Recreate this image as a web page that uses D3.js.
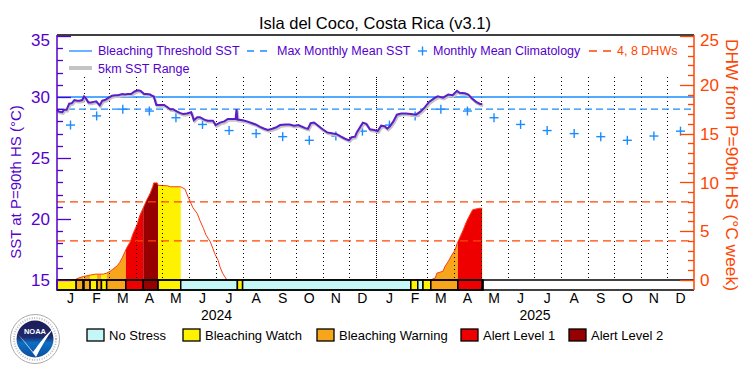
<!DOCTYPE html>
<html><head><meta charset="utf-8">
<script src="https://cdn.jsdelivr.net/npm/d3@7"></script>
<style>body{margin:0;background:#fff}svg{display:block}text{font-family:"Liberation Sans",Arial,sans-serif}</style>
</head><body><svg id="c" width="750" height="375"></svg>
<script>
// ---------------- DATA ----------------
const chartTitle = "Isla del Coco, Costa Rica (v3.1)";
const monthLetters = ["J","F","M","A","M","J","J","A","S","O","N","D"];
const years = [2024, 2025];
const climatology = [27.7, 28.45, 29.0, 28.85, 28.3, 27.75, 27.25, 27.0, 26.75, 26.45, 26.8, 27.2];
const bleachingThreshold = 30.0;
const maxMonthlyMean = 29.0;
const dhwReferenceLevels = [4, 8];
const sstTicks = [15, 20, 25, 30, 35];
const dhwTicks = [0, 5, 10, 15, 20, 25];

const sstDates = ["2024-01-01","2024-01-03","2024-01-07","2024-01-09","2024-01-12","2024-01-15","2024-01-18","2024-01-21","2024-01-24","2024-01-27","2024-01-30","2024-02-01","2024-02-03","2024-02-06","2024-02-09","2024-02-12","2024-02-15","2024-02-19","2024-02-22","2024-02-25","2024-02-29","2024-03-04","2024-03-08","2024-03-11","2024-03-16","2024-03-19","2024-03-22","2024-03-26","2024-03-30","2024-04-03","2024-04-06","2024-04-10","2024-04-13","2024-04-17","2024-04-19","2024-04-21","2024-04-24","2024-04-28","2024-05-03","2024-05-06","2024-05-10","2024-05-13","2024-05-18","2024-05-21","2024-05-25","2024-05-29","2024-06-03","2024-06-06","2024-06-10","2024-06-13","2024-06-18","2024-06-22","2024-06-28","2024-07-01","2024-07-06","2024-07-11","2024-07-15","2024-07-21","2024-07-24","2024-07-25","2024-07-26","2024-08-01","2024-08-06","2024-08-12","2024-08-16","2024-08-21","2024-08-26","2024-08-30","2024-09-04","2024-09-08","2024-09-13","2024-09-19","2024-09-24","2024-09-29","2024-10-04","2024-10-07","2024-10-12","2024-10-15","2024-10-18","2024-10-22","2024-10-25","2024-10-31","2024-11-06","2024-11-13","2024-11-17","2024-11-22","2024-11-26","2024-12-01","2024-12-04","2024-12-08","2024-12-10","2024-12-14","2024-12-17","2024-12-21","2024-12-25","2024-12-30","2025-01-03","2025-01-07","2025-01-11","2025-01-14","2025-01-17","2025-01-21","2025-01-25","2025-01-30","2025-02-04","2025-02-10","2025-02-16","2025-02-21","2025-02-26","2025-03-03","2025-03-09","2025-03-13","2025-03-19","2025-03-25","2025-03-30","2025-04-04","2025-04-07","2025-04-13","2025-04-17","2025-04-21","2025-04-26","2025-04-30","2025-05-03"];
const sstValues = [28.95,28.8,28.75,28.95,28.95,29.45,29.5,29.75,29.7,29.7,29.75,30.05,29.9,29.55,29.55,29.6,29.65,29.32,29.7,29.75,29.93,30.1,30.15,30.15,30.25,30.2,30.25,30.25,30.45,30.55,30.5,30.25,30.25,30.2,30.1,30.05,29.35,29.35,29.35,29.2,29.0,29.0,28.8,28.7,28.6,28.65,28.75,28.1,28.35,28.35,28.15,28.05,28.05,27.7,27.9,28.0,28.2,28.2,28.2,29.0,28.15,28.1,28.0,27.85,27.75,27.55,27.4,27.3,27.4,27.5,27.7,27.75,27.75,27.65,27.7,27.6,27.45,27.4,27.85,27.9,27.75,27.4,27.1,27.0,26.95,26.75,26.6,26.45,26.7,26.75,27.1,27.55,27.9,27.8,27.35,27.3,27.2,27.65,27.6,27.4,27.6,28.0,28.55,28.65,28.65,28.6,28.55,28.8,29.15,29.6,29.9,30.05,29.95,30.2,30.15,30.5,30.35,30.3,30.2,29.9,29.6,29.45,29.4];

const dhwDates = ["2024-01-01","2024-01-22","2024-01-23","2024-01-24","2024-01-31","2024-02-08","2024-02-14","2024-02-23","2024-02-27","2024-03-02","2024-03-05","2024-03-10","2024-03-13","2024-03-16","2024-03-19","2024-03-21","2024-03-25","2024-03-28","2024-04-02","2024-04-05","2024-04-09","2024-04-13","2024-04-17","2024-04-20","2024-04-21","2024-04-25","2024-04-26","2024-05-07","2024-05-10","2024-05-22","2024-05-27","2024-05-30","2024-06-02","2024-06-05","2024-06-10","2024-06-13","2024-06-17","2024-06-20","2024-06-25","2024-06-28","2024-06-30","2024-07-04","2024-07-06","2024-07-09","2024-07-14","2025-03-04","2025-03-07","2025-03-10","2025-03-12","2025-03-19","2025-03-21","2025-03-25","2025-03-29","2025-04-02","2025-04-04","2025-04-07","2025-04-11","2025-04-15","2025-04-19","2025-04-22","2025-04-27","2025-04-30","2025-05-03"];
const dhwValues = [0,0,0.1,0.15,0.35,0.5,0.6,0.6,0.7,0.9,1.1,1.45,1.8,2.3,2.9,3.3,3.9,4.7,5.7,6.6,7.4,8.2,8.9,9.6,9.95,9.95,9.7,9.65,9.55,9.55,9.3,8.6,8.0,7.4,6.8,6.1,5.3,4.6,3.9,3.2,2.7,2.0,1.35,0.7,0,0,0.1,0.2,0.7,0.9,1.35,1.9,2.55,3.1,3.7,4.3,5.1,6.0,6.7,7.2,7.3,7.35,7.35];

// stress level runs: 0 No Stress, 1 Watch, 2 Warning, 3 Alert 1, 4 Alert 2
const stressStarts = ["2024-01-01","2024-01-23","2024-01-31","2024-02-01","2024-02-08","2024-02-16","2024-02-21","2024-02-27","2024-03-20","2024-04-09","2024-04-26","2024-05-22","2024-07-26","2024-08-01","2025-02-10","2025-02-18","2025-02-24","2025-03-05","2025-04-05","2025-05-03"];
const stressLevels = [1,2,1,2,1,2,1,2,3,4,1,0,1,0,1,0,1,2,3,1];
const stressDataEnd = "2025-05-04";
const stressNames = ["No Stress","Bleaching Watch","Bleaching Warning","Alert Level 1","Alert Level 2"];

// ---------------- STYLE ----------------
const stressColors = ["#c6f7f7","#fff200","#f7a61c","#ee0000","#960000"];
const PURPLE = "#5500cc", LINEPURPLE = "#5a1ec8", BLUE = "#1a8cff", ORANGE = "#ff4500";

const svg = d3.select("#c");
const parse = d3.utcParse("%Y-%m-%d");
const L = 57, R = 694, TOP = 35, BOT = 290, BASE = 280;

const x = d3.scaleUtc().domain([new Date(Date.UTC(2024,0,1)), new Date(Date.UTC(2026,0,1))]).range([L, R]);
const yL = d3.scaleLinear().domain([15, 35]).range([BASE, 36]);
const yR = d3.scaleLinear().domain([0, 25]).range([BASE, 36]);

const sst = sstDates.map((d,i)=>({date:parse(d), v:sstValues[i]}));
const dhw = dhwDates.map((d,i)=>({date:parse(d), v:dhwValues[i]}));
const runs = stressStarts.map((d,i)=>({start:parse(d), end: parse(i<stressStarts.length-1?stressStarts[i+1]:stressDataEnd), level:stressLevels[i]}));

const defs = svg.append("defs");

// DHW area fills by stress level
const area = d3.area().x(d=>x(d.date)).y0(yR(0)).y1(d=>yR(d.v));
runs.forEach((r,i)=>{
  if (r.level === 0) return;
  defs.append("clipPath").attr("id","cp"+i).append("rect")
    .attr("x", x(r.start)).attr("width", x(r.end)-x(r.start)).attr("y", 0).attr("height", BASE);
  svg.append("path").datum(dhw).attr("d", area).attr("fill", stressColors[r.level]).attr("clip-path","url(#cp"+i+")");
});
// DHW line
svg.append("path").datum(dhw).attr("d", d3.line().x(d=>x(d.date)).y(d=>yR(d.v)))
  .attr("fill","none").attr("stroke","#ff3c14").attr("stroke-width",1);

// month dotted lines
const monthStarts = d3.utcMonth.range(new Date(Date.UTC(2024,1,1)), new Date(Date.UTC(2026,0,1)));
svg.append("g").selectAll("line").data(monthStarts).join("line")
  .attr("x1", d=>Math.round(x(d))+0.5).attr("x2", d=>Math.round(x(d))+0.5).attr("y1", 77).attr("y2", BASE)
  .attr("stroke","#000").attr("stroke-width",1)
  .attr("stroke-dasharray", d=>d.getUTCMonth()===0 ? "1,1" : "1,3");

// DHW reference lines
svg.append("g").selectAll("line").data(dhwReferenceLevels).join("line")
  .attr("x1", L).attr("x2", R).attr("y1", d=>yR(d)).attr("y2", d=>yR(d))
  .attr("stroke", ORANGE).attr("stroke-width",1.2).attr("stroke-dasharray","8,5");

// threshold and MMM
svg.append("line").attr("x1",L).attr("x2",R).attr("y1",yL(bleachingThreshold)).attr("y2",yL(bleachingThreshold))
  .attr("stroke",BLUE).attr("stroke-width",1.3);
svg.append("line").attr("x1",L).attr("x2",R).attr("y1",yL(maxMonthlyMean)).attr("y2",yL(maxMonthlyMean))
  .attr("stroke",BLUE).attr("stroke-width",1.3).attr("stroke-dasharray","7,4");

// climatology plus markers (mid-month both years)
const climPts = [];
years.forEach(yr => climatology.forEach((v,m)=>{
  const a = Date.UTC(yr,m,1), b = Date.UTC(yr,m+1,1);
  climPts.push({date:new Date((a+b)/2), v});
}));
const plus = svg.append("g").attr("stroke",BLUE).attr("stroke-width",1.4);
climPts.forEach(p=>{
  const cx = x(p.date), cy = yL(p.v);
  plus.append("line").attr("x1",cx-4.5).attr("x2",cx+4.5).attr("y1",cy).attr("y2",cy);
  plus.append("line").attr("x1",cx).attr("x2",cx).attr("y1",cy-4.5).attr("y2",cy+4.5);
});

// SST range (gray) and SST line
const sstLine = d3.line().x(d=>x(d.date)).y(d=>yL(d.v));
svg.append("path").datum(sst).attr("d", sstLine).attr("fill","none").attr("stroke","#c4c4c4")
  .attr("stroke-width",2.5).attr("transform","translate(1,1.5)");
svg.append("path").datum(sst).attr("d", sstLine).attr("fill","none").attr("stroke",LINEPURPLE)
  .attr("stroke-width",2).attr("stroke-linejoin","miter");

// stress bar
svg.append("g").selectAll("rect").data(runs).join("rect")
  .attr("x", d=>x(d.start)).attr("width", d=>x(d.end)-x(d.start))
  .attr("y", BASE).attr("height", BOT-BASE)
  .attr("fill", d=>stressColors[d.level]).attr("stroke","#000").attr("stroke-width",1.5);
svg.append("line").attr("x1",L).attr("x2",R).attr("y1",BASE).attr("y2",BASE).attr("stroke","#000").attr("stroke-width",1.5);

// frame
svg.append("line").attr("x1",L).attr("x2",R).attr("y1",TOP).attr("y2",TOP).attr("stroke","#000").attr("stroke-width",1.5);
svg.append("line").attr("x1",L).attr("x2",R).attr("y1",BOT).attr("y2",BOT).attr("stroke","#000").attr("stroke-width",1.5);

// left axis
const gl = svg.append("g");
gl.append("line").attr("x1",L).attr("x2",L).attr("y1",TOP).attr("y2",BOT).attr("stroke",PURPLE).attr("stroke-width",1.5);
d3.range(15,36).forEach(v=>{
  const major = v%5===0;
  gl.append("line").attr("x1",L).attr("x2",L+(major?14:6)).attr("y1",Math.round(yL(v))+0.5).attr("y2",Math.round(yL(v))+0.5)
    .attr("stroke",PURPLE).attr("stroke-width",1.3);
});
gl.selectAll("text").data(sstTicks).join("text")
  .attr("x",50).attr("y",d=>Math.max(yL(d),40)).attr("dy","0.36em").attr("text-anchor","end")
  .attr("font-size",17).attr("fill",PURPLE).text(d=>d);
svg.append("text").attr("transform","translate(21,182) rotate(-90)").attr("text-anchor","middle")
  .attr("font-size",15).attr("fill",PURPLE).text("SST at P=90th HS (°C)");

// right axis
const gr = svg.append("g");
gr.append("line").attr("x1",R).attr("x2",R).attr("y1",TOP).attr("y2",BOT).attr("stroke",ORANGE).attr("stroke-width",1.5);
d3.range(0,26).forEach(v=>{
  const major = v%5===0;
  gr.append("line").attr("x1",R).attr("x2",R-(major?14:6)).attr("y1",Math.round(yR(v))+0.5).attr("y2",Math.round(yR(v))+0.5)
    .attr("stroke",ORANGE).attr("stroke-width",1.3);
});
gr.selectAll("text").data(dhwTicks).join("text")
  .attr("x",700).attr("y",d=>Math.max(yR(d),40)).attr("dy","0.36em").attr("text-anchor","start")
  .attr("font-size",17).attr("fill",ORANGE).text(d=>d);
svg.append("text").attr("transform","translate(726,165) rotate(90)").attr("text-anchor","middle")
  .attr("font-size",16.5).attr("textLength",252).attr("lengthAdjust","spacingAndGlyphs")
  .attr("fill",ORANGE).text("DHW from P=90th HS (°C week)");

// month labels and years
const months = d3.utcMonth.range(new Date(Date.UTC(2024,0,1)), new Date(Date.UTC(2026,0,1)));
svg.append("g").selectAll("text").data(months).join("text")
  .attr("x", d=>x(new Date((+d + +d3.utcMonth.offset(d,1))/2))).attr("y",303)
  .attr("text-anchor","middle").attr("font-size",14).attr("fill","#000")
  .text(d=>monthLetters[d.getUTCMonth()]);
svg.append("g").selectAll("text").data(years).join("text")
  .attr("x", d=>x(new Date((Date.UTC(d,0,1)+Date.UTC(d+1,0,1))/2))).attr("y",320)
  .attr("text-anchor","middle").attr("font-size",14).attr("fill","#000").text(d=>d);

// title
svg.append("text").attr("x",375).attr("y",29).attr("text-anchor","middle").attr("font-size",16.5)
  .attr("fill","#000").text(chartTitle);

// top legend
const lg = svg.append("g").attr("font-size",12.5);
lg.append("line").attr("x1",69).attr("x2",92).attr("y1",51).attr("y2",51).attr("stroke",BLUE).attr("stroke-width",1.3);
lg.append("text").attr("x",98).attr("y",55).attr("fill",PURPLE).text("Bleaching Threshold SST");
lg.append("line").attr("x1",247).attr("x2",269).attr("y1",51).attr("y2",51).attr("stroke",BLUE).attr("stroke-width",1.3).attr("stroke-dasharray","7,6");
lg.append("text").attr("x",277).attr("y",55).attr("fill",PURPLE).text("Max Monthly Mean SST");
lg.append("line").attr("x1",418).attr("x2",427).attr("y1",51).attr("y2",51).attr("stroke",BLUE).attr("stroke-width",1.4);
lg.append("line").attr("x1",422.5).attr("x2",422.5).attr("y1",46.5).attr("y2",55.5).attr("stroke",BLUE).attr("stroke-width",1.4);
lg.append("text").attr("x",433).attr("y",55).attr("fill",PURPLE).text("Monthly Mean Climatology");
lg.append("line").attr("x1",589).attr("x2",612).attr("y1",51).attr("y2",51).attr("stroke",ORANGE).attr("stroke-width",1.3).attr("stroke-dasharray","8,6");
lg.append("text").attr("x",617).attr("y",55).attr("fill",ORANGE).text("4, 8 DHWs");
lg.append("line").attr("x1",69).attr("x2",92).attr("y1",68).attr("y2",68).attr("stroke","#c4c4c4").attr("stroke-width",4);
lg.append("text").attr("x",98).attr("y",73).attr("fill",PURPLE).text("5km SST Range");

// bottom legend
const legX = [87, 183, 317, 461, 569];
const bl = svg.append("g");
stressNames.forEach((n,i)=>{
  bl.append("rect").attr("x",legX[i]).attr("y",329).attr("width",17).attr("height",12)
    .attr("fill",stressColors[i]).attr("stroke","#000").attr("stroke-width",1.3);
  bl.append("text").attr("x",legX[i]+22).attr("y",340).attr("font-size",13).attr("fill","#000").text(n);
});

// NOAA logo
const grad = defs.append("linearGradient").attr("id","ng").attr("x1",0).attr("x2",0).attr("y1",0).attr("y2",1);
grad.append("stop").attr("offset","0").attr("stop-color","#1d1b55");
grad.append("stop").attr("offset","0.45").attr("stop-color","#1d2a6e");
grad.append("stop").attr("offset","0.6").attr("stop-color","#0e6ec2");
grad.append("stop").attr("offset","1").attr("stop-color","#0a4f9e");
const logo = svg.append("g");
logo.append("circle").attr("cx",35).attr("cy",339).attr("r",24.5).attr("fill","#fff").attr("stroke","#aaa").attr("stroke-width",1);
logo.append("circle").attr("cx",35).attr("cy",339).attr("r",21).attr("fill","none").attr("stroke","#bbb").attr("stroke-width",2).attr("stroke-dasharray","1,1.5");
logo.append("circle").attr("cx",35).attr("cy",339).attr("r",18.5).attr("fill","url(#ng)");
logo.append("path").attr("d","M17.5,334 C24,340 29,347 33,352 C40,343 46,334 53,329 C47,337 41,347 36,357 C30,349 24,341 17.5,334 Z").attr("fill","#fff");
logo.append("text").attr("x",35).attr("y",334).attr("text-anchor","middle").attr("font-size",7.5).attr("font-weight","bold").attr("fill","#fff").text("NOAA");
</script></body></html>
